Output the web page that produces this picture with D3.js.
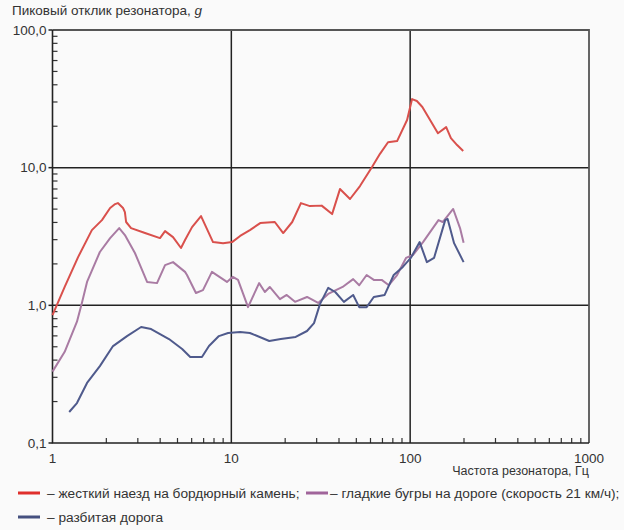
<!DOCTYPE html>
<html>
<head>
<meta charset="utf-8">
<script src="https://cdn.jsdelivr.net/npm/d3@7/dist/d3.min.js"></script>
<style>
    body { margin: 0; background: #fafafa; }
    svg { display: block; font-family: "Liberation Sans", Arial, sans-serif; }
</style>
</head>
<body>
<svg width="624" height="530"></svg>
<script>
// frequency (Hz) / peak response (g)
var curbX = [1.0, 1.17, 1.39, 1.66, 1.89, 2.1, 2.24, 2.32, 2.48, 2.54, 2.58, 2.75, 3.29, 3.99, 4.26, 4.72, 5.23, 5.51,
    6.03, 6.77, 7.9, 8.99, 10.1, 11.2, 12.7, 14.5, 17.5, 19.5, 21.9, 24.5, 27.5, 32, 36.6, 40.5, 46.1, 52.4, 61.2,
    67.8, 75.2, 84.5, 96.1, 102.5, 109, 117, 143, 159, 169, 183, 198];
var curbY = [0.85, 1.36, 2.24, 3.52, 4.16, 5.09, 5.44, 5.53, 5.09, 4.76, 4.03, 3.64, 3.35, 3.08, 3.46, 3.13, 2.61, 2.98,
    3.7, 4.45, 2.88, 2.83, 2.88, 3.19, 3.52, 3.96, 4.03, 3.35, 4.03, 5.53, 5.26, 5.3, 4.6, 6.99, 5.92, 7.35, 10.1,
    12.6, 15.3, 15.6, 22.2, 31.5, 30.5, 27.6, 17.8, 19.7, 16.4, 14.6, 13.2];

var bumpsX = [1.0, 1.17, 1.37, 1.46, 1.56, 1.84, 2.1, 2.36, 2.54, 2.89, 3.38, 3.84, 4.26, 4.72, 5.51, 5.65, 6.34, 6.94,
    7.79, 9.45, 10.2, 10.9, 12.4, 14.3, 15.4, 16.4, 18.7, 20.4, 22.7, 26.5, 30.6, 34.8, 41.9, 48, 51.9, 57.1, 62.6,
    69.3, 76, 84.5, 94.8, 103.6, 118, 144, 152, 174, 190, 199];
var bumpsY = [0.33, 0.46, 0.76, 1.04, 1.48, 2.44, 3.08, 3.64, 3.24, 2.4, 1.48, 1.45, 1.96, 2.06, 1.75, 1.66, 1.23, 1.29,
    1.75, 1.48, 1.61, 1.53, 0.97, 1.45, 1.25, 1.36, 1.11, 1.19, 1.06, 1.15, 1.04, 1.21, 1.36, 1.55, 1.4, 1.66, 1.53,
    1.53, 1.4, 1.66, 2.21, 2.32, 2.88, 4.16, 4.03, 5.01, 3.64, 2.85];

var roughX = [1.24, 1.37, 1.56, 1.84, 2.18, 2.61, 3.13, 3.56, 4.48, 5.31, 5.89, 6.85, 7.5, 8.52, 9.59, 11.2, 12.7,
    16.3, 18.9, 22.9, 26.5, 29, 31.3, 34.8, 38.1, 42.6, 48, 51.9, 57.1, 62.6, 72, 80.9, 91, 100.8, 113, 124, 136,
    157, 162, 176, 199];
var roughY = [0.168, 0.195, 0.273, 0.362, 0.506, 0.598, 0.696, 0.673, 0.569, 0.482, 0.421, 0.421, 0.506, 0.598, 0.63,
    0.64, 0.63, 0.551, 0.569, 0.589, 0.651, 0.743, 1.02, 1.34, 1.25, 1.06, 1.19, 0.97, 0.97, 1.15, 1.19, 1.66, 1.9,
    2.21, 2.88, 2.06, 2.21, 4.16, 4.24, 2.83, 2.06];

var xTicks = [1, 10, 100, 1000];
var xTickLabels = ['1', '10', '100', '1000'];
var yTicks = [0.1, 1, 10, 100];
var yTickLabels = ['0,1', '1,0', '10,0', '100,0'];

var seriesNames = [
    'жесткий наезд на бордюрный камень;',
    'гладкие бугры на дороге (скорость 21 км/ч);',
    'разбитая дорога'
];

var CONFIG = {
    left: 52.5, right: 589, top: 30, bottom: 443,
    colors: ['#d9504c', '#a97ba3', '#4f5a8c'],
    legendColors: ['#e0302c', '#a0649a', '#45507f']
};

var svg = d3.select('svg');

var x = d3.scaleLog().domain([1, 1000]).range([CONFIG.left, CONFIG.right]);
var y = d3.scaleLog().domain([0.1, 100]).range([CONFIG.bottom, CONFIG.top]);

/*
 * minor ticks 2..9 in every decade
 */
var minors = function (lo, hi) {
    var arr = [];
    for (var d = lo; d < hi; d *= 10) {
        for (var k = 2; k <= 9; ++k) arr.push(d * k);
    }
    return arr;
};

svg.append('g')
    .selectAll('line')
    .data(minors(0.1, 100))
    .enter()
    .append('line')
    .attr('x1', CONFIG.left).attr('x2', CONFIG.left + 5)
    .attr('y1', function (d) { return y(d); })
    .attr('y2', function (d) { return y(d); })
    .style('stroke', '#333').style('stroke-width', 1.2);

svg.append('g')
    .selectAll('line')
    .data(minors(1, 1000))
    .enter()
    .append('line')
    .attr('y1', CONFIG.bottom).attr('y2', CONFIG.bottom - 5)
    .attr('x1', function (d) { return x(d); })
    .attr('x2', function (d) { return x(d); })
    .style('stroke', '#333').style('stroke-width', 1.2);

// decade grid
svg.append('g')
    .selectAll('line')
    .data([10, 100])
    .enter()
    .append('line')
    .attr('x1', function (d) { return x(d); })
    .attr('x2', function (d) { return x(d); })
    .attr('y1', CONFIG.top).attr('y2', CONFIG.bottom)
    .style('stroke', '#222').style('stroke-width', 1.5);

svg.append('g')
    .selectAll('line')
    .data([1, 10])
    .enter()
    .append('line')
    .attr('y1', function (d) { return y(d); })
    .attr('y2', function (d) { return y(d); })
    .attr('x1', CONFIG.left).attr('x2', CONFIG.right)
    .style('stroke', '#222').style('stroke-width', 1.5);

// frame: top and right are lighter
svg.append('path')
    .attr('d', 'M' + CONFIG.left + ',' + CONFIG.top + 'H' + CONFIG.right + 'V' + CONFIG.bottom)
    .style('fill', 'none').style('stroke', '#555').style('stroke-width', 1.8);

svg.append('path')
    .attr('d', 'M' + CONFIG.left + ',' + CONFIG.top + 'V' + CONFIG.bottom + 'H' + CONFIG.right)
    .style('fill', 'none').style('stroke', '#222').style('stroke-width', 1.6);

// small stubs left of the y axis at decade labels
svg.append('g')
    .selectAll('line')
    .data(yTicks)
    .enter()
    .append('line')
    .attr('x1', CONFIG.left - 4).attr('x2', CONFIG.left)
    .attr('y1', function (d) { return y(d); })
    .attr('y2', function (d) { return y(d); })
    .style('stroke', '#222').style('stroke-width', 1.5);

svg.append('g')
    .selectAll('text')
    .data(yTicks)
    .enter()
    .append('text')
    .attr('x', CONFIG.left - 6)
    .attr('y', function (d) { return y(d) + 4.5; })
    .style('text-anchor', 'end')
    .style('font-size', '13.5px')
    .style('fill', '#333')
    .text(function (d, i) { return yTickLabels[i]; });

svg.append('g')
    .selectAll('text')
    .data(xTicks)
    .enter()
    .append('text')
    .attr('x', function (d) { return x(d); })
    .attr('y', CONFIG.bottom + 20)
    .style('text-anchor', 'middle')
    .style('font-size', '13.5px')
    .style('fill', '#333')
    .text(function (d, i) { return xTickLabels[i]; });

var yTitle = svg.append('text')
    .attr('x', 12).attr('y', 15)
    .style('font-size', '13.5px')
    .style('fill', '#333')
    .text('Пиковый отклик резонатора, ');
yTitle.append('tspan').style('font-style', 'italic').text('g');

svg.append('text')
    .attr('x', CONFIG.right).attr('y', 475)
    .style('text-anchor', 'end')
    .style('font-size', '12.5px')
    .style('fill', '#333')
    .text('Частота резонатора, Гц');

var series = [
    { xs: curbX, ys: curbY },
    { xs: bumpsX, ys: bumpsY },
    { xs: roughX, ys: roughY }
];

var line = d3.line()
    .x(function (d) { return x(d[0]); })
    .y(function (d) { return y(d[1]); });

svg.append('g')
    .selectAll('path')
    .data(series)
    .enter()
    .append('path')
    .attr('d', function (s) { return line(d3.zip(s.xs, s.ys)); })
    .style('fill', 'none')
    .style('stroke-width', 2)
    .style('stroke-linejoin', 'round')
    .style('stroke', function (s, i) { return CONFIG.colors[i]; });

// legend
var legendPos = [[18, 493], [306, 493], [18, 517]];

var lg = svg.append('g')
    .selectAll('g')
    .data(seriesNames)
    .enter()
    .append('g')
    .attr('transform', function (d, i) { return 'translate(' + legendPos[i][0] + ',' + legendPos[i][1] + ')'; });

lg.append('line')
    .attr('x1', 0).attr('x2', 22)
    .style('stroke-width', 3)
    .style('stroke', function (d, i) { return CONFIG.legendColors[i]; });

lg.append('text')
    .attr('x', function (d, i) { return i === 1 ? 24 : 29; })
    .attr('y', 4.5)
    .style('font-size', '13.7px')
    .style('fill', '#333')
    .text(function (d) { return '– ' + d; });
</script>
</body>
</html>
